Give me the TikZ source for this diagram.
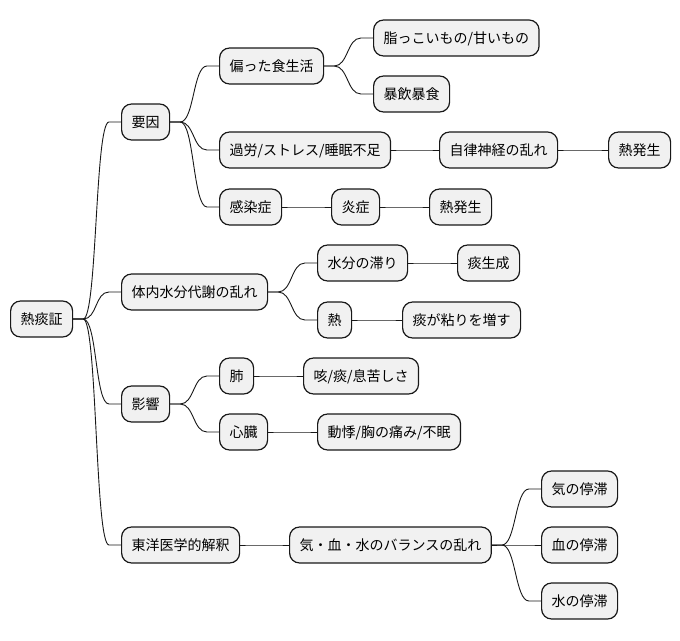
\documentclass[tikz,border=0pt]{standalone}
\usepackage{fontspec}
\newfontfamily\cjk{Noto Sans CJK JP}
\usetikzlibrary{calc}
\definecolor{nodefill}{HTML}{F1F1F1}
\definecolor{nodeline}{HTML}{181818}
\tikzset{
  mm/.style={draw=nodeline, fill=nodefill, line width=1.2pt, rounded corners=10pt,
    anchor=west, inner xsep=10pt, inner ysep=0pt, minimum height=36pt,
    text height=12pt, text depth=2pt, font=\cjk\fontsize{14}{16}\selectfont},
  conn/.style={draw=nodeline, line width=0.9pt}
}
\newcommand\mmlink[2]{\draw[conn] (#1.east) -- ++(10,0) .. controls +(14,0) and +(-14,0) .. ($(#2.west)+(-12,0)$) -- (#2.west);}
\begin{document}
\begin{tikzpicture}[x=1pt,y=-1pt]
\useasboundingbox (0,0) rectangle (680,640);
\node[mm] (root) at (10,319) {熱痰証};
\node[mm] (yoin) at (121,122) {要因};
\node[mm] (hen) at (219,66) {偏った食生活};
\node[mm] (abura) at (373,38) {脂っこいもの/甘いもの};
\node[mm] (bou) at (373,94) {暴飲暴食};
\node[mm] (karo) at (219,150) {過労/ストレス/睡眠不足};
\node[mm] (jiritsu) at (439,150) {自律神経の乱れ};
\node[mm] (netsua) at (608,150) {熱発生};
\node[mm] (kansen) at (219,207) {感染症};
\node[mm] (ensho) at (331,207) {炎症};
\node[mm] (netsub) at (429,207) {熱発生};
\node[mm] (taisha) at (121,292) {体内水分代謝の乱れ};
\node[mm] (suibun) at (317,263) {水分の滞り};
\node[mm] (tan) at (457,263) {痰生成};
\node[mm] (netsu) at (317,320) {熱};
\node[mm] (nenri) at (402,320) {痰が粘りを増す};
\node[mm] (eikyo) at (121,404) {影響};
\node[mm] (hai) at (219,376) {肺};
\node[mm] (seki) at (303,376) {咳/痰/息苦しさ};
\node[mm] (shinzo) at (219,432) {心臓};
\node[mm] (douki) at (317,432) {動悸/胸の痛み/不眠};
\node[mm] (toyo) at (121,545) {東洋医学的解釈};
\node[mm] (balance) at (289,545) {気・血・水のバランスの乱れ};
\node[mm] (ki) at (541,489) {気の停滞};
\node[mm] (ketsu) at (541,545) {血の停滞};
\node[mm] (mizu) at (541,601) {水の停滞};
\mmlink{root}{yoin}
\mmlink{root}{taisha}
\mmlink{root}{eikyo}
\mmlink{root}{toyo}
\mmlink{yoin}{hen}
\mmlink{yoin}{karo}
\mmlink{yoin}{kansen}
\mmlink{hen}{abura}
\mmlink{hen}{bou}
\mmlink{karo}{jiritsu}
\mmlink{jiritsu}{netsua}
\mmlink{kansen}{ensho}
\mmlink{ensho}{netsub}
\mmlink{taisha}{suibun}
\mmlink{taisha}{netsu}
\mmlink{suibun}{tan}
\mmlink{netsu}{nenri}
\mmlink{eikyo}{hai}
\mmlink{eikyo}{shinzo}
\mmlink{hai}{seki}
\mmlink{shinzo}{douki}
\mmlink{toyo}{balance}
\mmlink{balance}{ki}
\mmlink{balance}{ketsu}
\mmlink{balance}{mizu}
\end{tikzpicture}
\end{document}
